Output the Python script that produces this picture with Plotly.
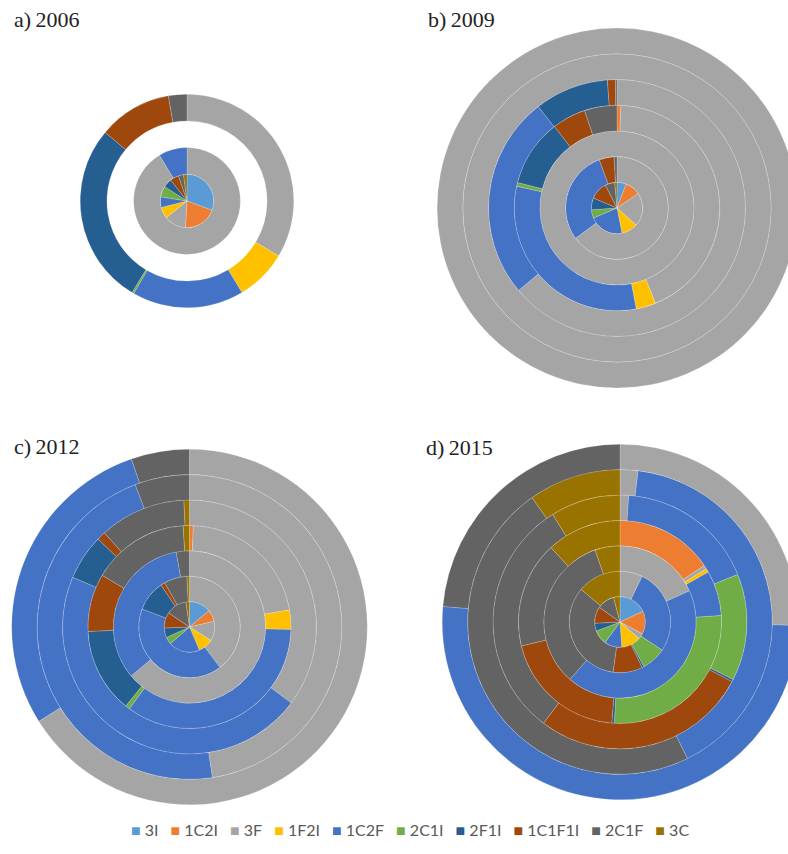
import plotly.graph_objects as go

# Household composition categories
CATEGORIES = ["3I", "1C2I", "3F", "1F2I", "1C2F", "2C1I", "2F1I", "1C1F1I", "2C1F", "3C"]
COLORS = ["#5B9BD5", "#ED7D31", "#A5A5A5", "#FFC000", "#4472C4",
          "#70AD47", "#255E91", "#9E480E", "#636363", "#997300"]

# Share (%) of each category, innermost ring first; None = ring without data
RINGS_2006 = [
    [30.6, 20.3, 13.3, 6.9, 6.4, 6.7, 5.3, 5.3, 3.1, 2.1],
    [0, 0, 91.4, 0, 8.6, 0, 0, 0, 0, 0],
    None,
    [0, 0, 33.6, 7.8, 16.9, 0.3, 27.5, 11.1, 2.8, 0],
    None,
    None,
    None,
]
RINGS_2009 = [
    [5.8, 9.7, 21.1, 10.3, 21.7, 5.3, 7.5, 11.1, 6.1, 1.4],
    [0, 0, 65.0, 0, 29.4, 0, 0, 4.7, 0.9, 0],
    [0, 0, 100, 0, 0, 0, 0, 0, 0, 0],
    [0, 0.6, 43.3, 3.1, 31.4, 0.6, 10.6, 5.3, 5.1, 0],
    [0, 0, 63.9, 0, 25.6, 0, 9.3, 1.0, 0.2, 0],
    [0, 0, 100, 0, 0, 0, 0, 0, 0, 0],
    [0, 0, 100, 0, 0, 0, 0, 0, 0, 0],
]
RINGS_2012 = [
    [13.9, 7.5, 12.5, 9.7, 20.0, 4.7, 6.1, 10.0, 13.3, 2.3],
    [0, 0, 39.7, 0, 41.1, 0, 9.7, 1.4, 7.3, 0.8],
    [0, 0, 63.9, 0, 33.3, 0, 0, 0, 2.8, 0],
    [0, 0.6, 21.7, 3.1, 34.7, 0.7, 13.5, 9.2, 15.5, 1.0],
    [0, 0, 35.2, 0, 46.2, 0, 5.8, 1.1, 11.0, 0.7],
    [0, 0, 47.6, 0, 46.6, 0, 0, 0, 5.8, 0],
    [0, 0, 66.1, 0, 28.6, 0, 0, 0, 5.3, 0],
]
RINGS_2015 = [
    [18.1, 14.7, 3.6, 12.5, 11.1, 9.2, 5.0, 10.6, 11.1, 4.1],
    [0, 0, 7.2, 0, 27.2, 7.8, 0.6, 9.4, 33.9, 13.9],
    [0, 0, 18.3, 0, 43.1, 0, 0, 0, 33.3, 5.3],
    [0, 15.6, 0.6, 0.6, 7.2, 26.9, 0.4, 19.9, 16.9, 11.9],
    [0, 0, 1.1, 0, 17.8, 13.6, 0.3, 27.5, 30.8, 8.9],
    [0, 0, 1.9, 0, 40.8, 0, 0, 0, 47.5, 9.8],
    [0, 0, 25.3, 0, 51.1, 0, 0, 0, 23.6, 0],
]

PANEL_TITLES = ["a)\u20092006", "b)\u20092009", "c)\u20092012", "d)\u20092015"]
PANEL_RINGS = [RINGS_2006, RINGS_2009, RINGS_2012, RINGS_2015]

# Layout of the four doughnuts (pixels): centre x, centre y, ring thickness
W, H = 830, 854
PANEL_GEOM = [(187, 201, 26.7), (617, 208, 25.7), (189.5, 627, 25.4), (620, 622, 25.4)]
TITLE_POS = [(12, 19), (426, 19), (12, 446), (424, 447)]

color_of = dict(zip(CATEGORIES, COLORS))

fig = go.Figure()
for rings, (cx, cy, w) in zip(PANEL_RINGS, PANEL_GEOM):
    for k, shares in enumerate(rings, start=1):
        if shares is None:
            continue
        labels = [c for c, v in zip(CATEGORIES, shares) if v > 0]
        values = [v for v in shares if v > 0]
        r_out = k * w
        fig.add_trace(go.Pie(
            labels=labels,
            values=values,
            sort=False,
            direction="clockwise",
            rotation=0,
            hole=(k - 1) / k,
            textinfo="none",
            hoverinfo="label+percent",
            showlegend=False,
            marker=dict(colors=[color_of[c] for c in labels],
                        line=dict(color="rgba(255,255,255,0.3)", width=0.6)),
            domain=dict(x=[(cx - r_out) / W, (cx + r_out) / W],
                        y=[1 - (cy + r_out) / H, 1 - (cy - r_out) / H]),
        ))

for text, (tx, ty) in zip(PANEL_TITLES, TITLE_POS):
    fig.add_annotation(text=text, x=tx / W, y=1 - ty / H, xref="paper", yref="paper",
                       xanchor="left", yanchor="middle", showarrow=False,
                       font=dict(family="Liberation Serif, DejaVu Serif, serif",
                                 size=22, color="#222222"))

# Shared category key along the bottom edge
key_text = "\u2003".join(
    f'<span style="color:{c}">\u25A0</span>\u00a0{lab}' for lab, c in zip(CATEGORIES, COLORS)
)
fig.add_annotation(text=key_text, x=410 / W, y=1 - 829 / H, xref="paper", yref="paper",
                   xanchor="center", yanchor="middle", showarrow=False,
                   font=dict(family="Lato, Open Sans, sans-serif", size=16, color="#595959"))

fig.update_layout(
    width=W, height=H,
    margin=dict(l=0, r=0, t=0, b=0),
    paper_bgcolor="white",
    plot_bgcolor="white",
    showlegend=False,
)

fig.write_html("out.html",
               post_script="document.documentElement.style.overflow='hidden';"
                           "document.body.style.overflow='hidden';")
